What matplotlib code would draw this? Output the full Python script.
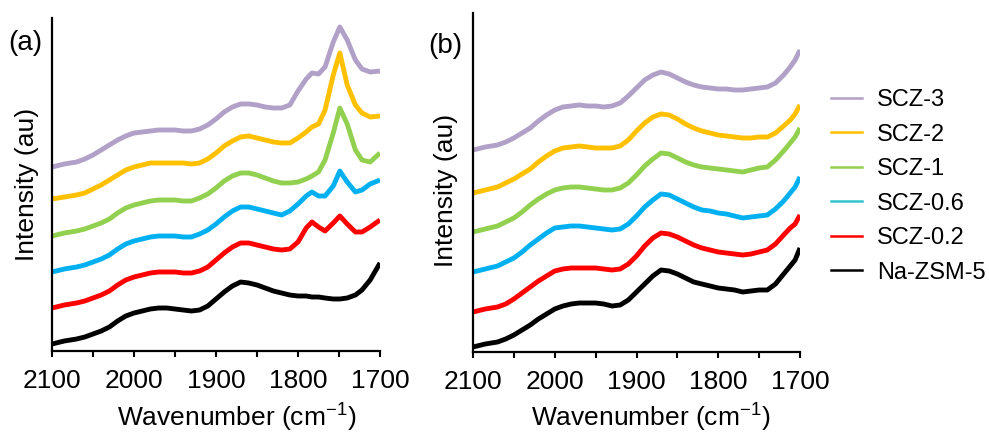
import matplotlib
matplotlib.use("Agg")
import matplotlib.pyplot as plt
from matplotlib.lines import Line2D
from matplotlib.ticker import MultipleLocator

plt.rcParams['font.family'] = ['Liberation Sans', 'DejaVu Sans']
plt.rcParams['mathtext.fontset'] = 'custom'
plt.rcParams['mathtext.rm'] = 'Liberation Sans'

series_names = ["SCZ-3", "SCZ-2", "SCZ-1", "SCZ-0.6", "SCZ-0.2", "Na-ZSM-5"]
line_colors = ["#B1A0C7", "#FFC000", "#92D050", "#00B0F0", "#FF0000", "#000000"]
legend_colors = ["#B1A0C7", "#FFC000", "#92D050", "#33C4CC", "#FF0000", "#000000"]

# ---- Panel (a) ---- (values are depths below the top of the panel; intensity = base - depth)
wn_a = [2100, 2085, 2070, 2060, 2050, 2040, 2030, 2020, 2010, 2000,
        1990, 1980, 1970, 1960, 1950, 1940, 1930, 1920, 1910, 1900,
        1890, 1880, 1870, 1860, 1850, 1840, 1830, 1820, 1810, 1800,
        1790, 1783, 1775, 1767, 1757, 1749, 1740, 1730, 1722, 1712, 1700]
a_scz3 = [167, 164, 162, 159, 155, 150, 145, 140, 136, 133,
          132, 131, 130, 130, 130, 131, 131, 129, 125, 119,
          112, 107, 104, 104, 105, 107, 108, 108, 105, 91,
          79, 73, 74, 67, 42, 27, 40, 60, 69, 72, 71]
a_scz2 = [199, 197, 195, 193, 189, 185, 180, 175, 170, 167,
          165, 163, 163, 163, 163, 163, 164, 163, 159, 153,
          146, 141, 137, 136, 138, 140, 142, 143, 143, 138,
          132, 127, 124, 110, 75, 53, 85, 105, 113, 117, 116]
a_scz1 = [236, 233, 231, 229, 226, 223, 219, 213, 208, 205,
          203, 201, 200, 200, 200, 201, 201, 198, 194, 188,
          181, 176, 173, 173, 175, 178, 181, 183, 183, 182,
          179, 176, 172, 160, 133, 108, 124, 150, 160, 162, 153]
a_scz06 = [272, 269, 267, 265, 262, 259, 255, 249, 244, 241,
           239, 237, 236, 236, 236, 237, 237, 234, 230, 224,
           217, 211, 207, 207, 209, 211, 213, 215, 211, 204,
           196, 192, 196, 196, 186, 171, 182, 192, 190, 184, 180]
a_scz02 = [308, 305, 303, 301, 298, 295, 291, 285, 280, 277,
           275, 273, 272, 272, 272, 273, 273, 271, 267, 260,
           253, 247, 243, 243, 245, 247, 249, 250, 249, 242,
           228, 222, 227, 231, 223, 216, 224, 232, 232, 227, 220]
a_nazsm = [344, 341, 339, 337, 334, 331, 327, 321, 316, 313,
           311, 309, 308, 308, 309, 310, 311, 310, 306, 299,
           292, 286, 282, 283, 285, 288, 291, 293, 295, 296,
           296, 297, 297, 298, 299, 299, 298, 295, 290, 280, 263]

# ---- Panel (b) ----
wn_b = [2100, 2085, 2070, 2060, 2050, 2040, 2030, 2020, 2010, 2000,
        1990, 1980, 1970, 1960, 1950, 1940, 1930, 1920, 1910, 1900,
        1890, 1880, 1870, 1860, 1850, 1840, 1830, 1820, 1810, 1800,
        1790, 1780, 1770, 1760, 1750, 1740, 1730, 1720, 1712, 1706, 1700]
b_scz3 = [150, 147, 145, 142, 138, 133, 128, 121, 115, 110,
          107, 106, 105, 106, 106, 107, 106, 103, 96, 88,
          80, 75, 72, 74, 78, 82, 85, 87, 88, 89,
          89, 90, 90, 89, 88, 87, 83, 75, 67, 60, 50]
b_scz2 = [193, 190, 187, 183, 179, 174, 169, 162, 156, 151,
          148, 147, 146, 147, 148, 148, 148, 146, 140, 131,
          123, 117, 114, 115, 119, 124, 128, 131, 133, 135,
          136, 137, 138, 138, 137, 137, 133, 126, 120, 114, 105]
b_scz1 = [232, 229, 226, 222, 218, 212, 205, 199, 194, 190,
          188, 187, 187, 188, 189, 190, 190, 188, 183, 175,
          166, 159, 153, 154, 158, 162, 165, 167, 168, 169,
          170, 171, 172, 170, 168, 167, 160, 151, 143, 137, 128]
b_scz06 = [272, 269, 266, 262, 258, 252, 245, 239, 233, 228,
           227, 226, 226, 227, 228, 229, 230, 229, 224, 216,
           207, 200, 194, 195, 199, 203, 207, 210, 211, 213,
           214, 216, 218, 217, 216, 215, 209, 201, 193, 187, 177]
b_scz02 = [312, 309, 307, 304, 299, 293, 287, 281, 276, 271,
           269, 268, 268, 268, 268, 269, 270, 269, 264, 256,
           246, 238, 233, 234, 237, 241, 245, 248, 250, 252,
           253, 254, 255, 254, 252, 250, 244, 235, 228, 224, 215]
b_nazsm = [347, 344, 342, 339, 335, 330, 325, 319, 314, 309,
           306, 304, 303, 303, 303, 304, 306, 305, 300, 292,
           284, 276, 270, 271, 274, 278, 282, 284, 286, 288,
           289, 290, 292, 291, 290, 290, 284, 274, 266, 260, 248]

base_a, top_a = 351, 18
base_b, top_b = 352, 13

W, H = 989, 433
fig = plt.figure(figsize=(W / 100, H / 100), dpi=100)

def px_rect(left, right, top, bottom):
    return [left / W, 1 - bottom / H, (right - left) / W, (bottom - top) / H]

ax_a = fig.add_axes(px_rect(52, 380, top_a, base_a))
ax_b = fig.add_axes(px_rect(473, 800, top_b, base_b))

panels = [
    (ax_a, wn_a, [a_scz3, a_scz2, a_scz1, a_scz06, a_scz02, a_nazsm], base_a, top_a),
    (ax_b, wn_b, [b_scz3, b_scz2, b_scz1, b_scz06, b_scz02, b_nazsm], base_b, top_b),
]

for ax, wn, data, base, top in panels:
    for vals, col in zip(data, line_colors):
        ax.plot(wn, [base - v for v in vals], color=col, lw=3.5,
                solid_capstyle='butt', solid_joinstyle='round')
    ax.set_xlim(2100, 1700)
    ax.set_ylim(0, base - top)
    ax.set_yticks([])
    ax.xaxis.set_major_locator(MultipleLocator(100))
    ax.xaxis.set_minor_locator(MultipleLocator(50))
    ax.tick_params(axis='x', which='both', direction='out', length=4.5, width=1.5,
                   color='black', pad=8.5, labelsize=19)
    for s in ['top', 'right']:
        ax.spines[s].set_visible(False)
    for s in ['left', 'bottom']:
        ax.spines[s].set_linewidth(1.6)
        ax.spines[s].set_color('black')

def fx(x):
    return x / W

def fy(y):
    return 1 - y / H

xlabel = 'Wavenumber (cm$^{\\mathregular{-1}}$)'
fig.text(fx(237), fy(417), xlabel, ha='center', va='center', fontsize=19)
fig.text(fx(651), fy(417), xlabel, ha='center', va='center', fontsize=19)
fig.text(fx(27), fy(184), 'Intensity (au)', rotation=90, ha='center', va='center', fontsize=19)
fig.text(fx(446), fy(190), 'Intensity (au)', rotation=90, ha='center', va='center', fontsize=19)
fig.text(fx(25), fy(43), '(a)', ha='center', va='center', fontsize=20)
fig.text(fx(445), fy(46), '(b)', ha='center', va='center', fontsize=20)

handles = [Line2D([], [], color=c, lw=1.8) for c in legend_colors]
fig.legend(handles, series_names, loc='upper left',
           bbox_to_anchor=(fx(831), fy(89)), frameon=False, fontsize=17,
           handlelength=1.32, handletextpad=0.62, labelspacing=0.53,
           borderpad=0, borderaxespad=0)

fig.savefig('out.png', dpi=100)
